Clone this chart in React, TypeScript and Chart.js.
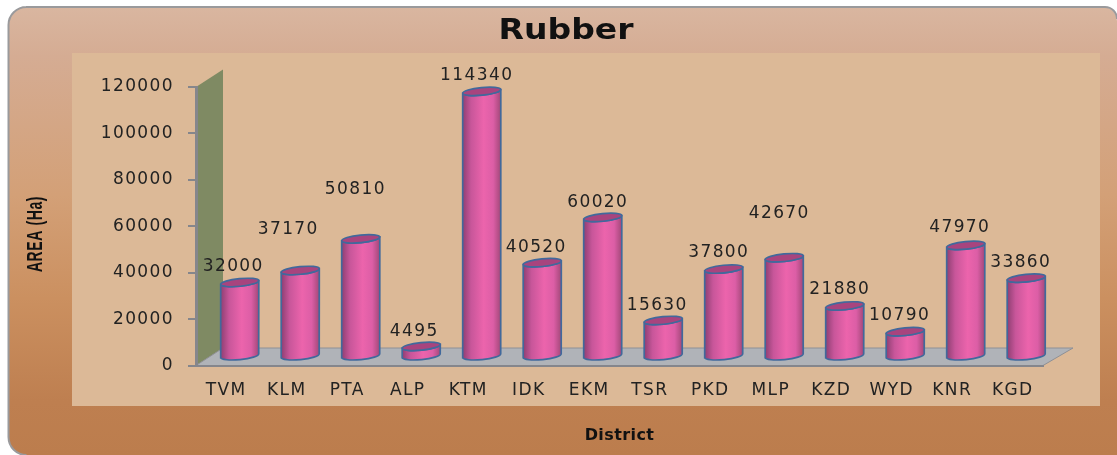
import React, { useEffect, useRef } from "react";
import { Chart, registerables } from "chart.js";

Chart.register(...registerables);

const districts = ["TVM", "KLM", "PTA", "ALP", "KTM", "IDK", "EKM", "TSR", "PKD", "MLP", "KZD", "WYD", "KNR", "KGD"];
const areaHa = [32000, 37170, 50810, 4495, 114340, 40520, 60020, 15630, 37800, 42670, 21880, 10790, 47970, 33860];
// Hand nudges of the value labels relative to each cylinder's top centre, as placed in the source chart.
const labelNudgeX = [-6.5, -12, -5.4, -7, -5, -6, -5, -6, -5, -5, -5, -5.6, -6, -5.5];
const labelNudgeY = [-15.5, -41, -49, -15, -16, -15, -15, -14.5, -16, -44, -16, -16, -18, -16];

const chartTitle = "Rubber";
const xTitle = "District";
const yTitle = "AREA (Ha)";

const DEPTH_X = 27;
const DEPTH_Y = 17.5;
const SPACING = "1.4px";

function setSpacing(ctx: any, v: string) {
  ctx.letterSpacing = v;
}

function label(ctx: any, text: string, x: number, y: number, font: string, spacing: string, rot = 0, sx = 1, sy = 1) {
  ctx.save();
  setSpacing(ctx, spacing);
  ctx.translate(x, y);
  ctx.rotate(rot);
  ctx.scale(sx, sy);
  ctx.font = font;
  ctx.fillStyle = "#111111";
  ctx.textAlign = "center";
  ctx.textBaseline = "middle";
  ctx.fillText(text, 0, 0);
  ctx.restore();
}

const scenePlugin = {
  id: "scene",
  beforeUpdate(chart: any) {
    setSpacing(chart.ctx, SPACING);
  },
  beforeDraw(chart: any) {
    const { ctx, chartArea: a, width, height } = chart;
    ctx.save();
    ctx.fillStyle = "#ffffff";
    ctx.fillRect(0, 0, width, height);
    const g = ctx.createLinearGradient(0, 7, 0, height);
    g.addColorStop(0, "#D9B6A0");
    g.addColorStop(0.11, "#D5AC93");
    g.addColorStop(0.42, "#D3A077");
    g.addColorStop(0.65, "#CB9060");
    g.addColorStop(0.88, "#BE7F50");
    g.addColorStop(1, "#BC7D4D");
    ctx.beginPath();
    ctx.moveTo(width, 16);
    ctx.arcTo(width, 7, width - 16, 7, 14);
    ctx.lineTo(26, 7);
    ctx.arcTo(8.5, 7, 8.5, 25, 18);
    ctx.lineTo(8.5, height - 18);
    ctx.arcTo(8.5, height, 26, height, 18);
    ctx.lineTo(width, height);
    ctx.closePath();
    ctx.fillStyle = g;
    ctx.fill();

    ctx.beginPath();
    ctx.moveTo(width, 14);
    ctx.arcTo(width, 7, width - 14, 7, 12);
    ctx.lineTo(26, 7);
    ctx.arcTo(8.5, 7, 8.5, 25, 18);
    ctx.lineTo(8.5, height - 18);
    ctx.arcTo(8.5, height, 26, height, 18);
    ctx.strokeStyle = "#9A9A9C";
    ctx.lineWidth = 2;
    ctx.stroke();

    ctx.fillStyle = "#DCB997";
    ctx.fillRect(72, 53, 1028, 353);

    ctx.beginPath();
    ctx.moveTo(a.left, a.bottom);
    ctx.lineTo(a.left, a.top);
    ctx.lineTo(a.left + DEPTH_X, a.top - DEPTH_Y);
    ctx.lineTo(a.left + DEPTH_X, a.bottom - DEPTH_Y);
    ctx.closePath();
    ctx.fillStyle = "#7F8A63";
    ctx.fill();

    ctx.beginPath();
    ctx.moveTo(a.left, a.bottom);
    ctx.lineTo(a.left + DEPTH_X, a.bottom - DEPTH_Y);
    ctx.lineTo(a.right + DEPTH_X + 3, a.bottom - DEPTH_Y);
    ctx.lineTo(a.right, a.bottom);
    ctx.closePath();
    ctx.fillStyle = "#B0B3B8";
    ctx.fill();
    ctx.strokeStyle = "#8E9096";
    ctx.lineWidth = 1;
    ctx.stroke();
    ctx.restore();
  },
  afterDatasetsDraw(chart: any) {
    const { ctx } = chart;
    const meta = chart.getDatasetMeta(0);
    const tilt = -0.1;
    ctx.save();
    meta.data.forEach((bar: any, i: number) => {
      const cx = bar.x + DEPTH_X / 2;
      const top = bar.y - DEPTH_Y / 2;
      const base = bar.base - DEPTH_Y / 2;
      const rx = bar.width / 2;
      const ry = 3.8;
      const dy = Math.sin(tilt) * rx;
      const grad = ctx.createLinearGradient(cx - rx, 0, cx + rx, 0);
      grad.addColorStop(0, "#8E3F72");
      grad.addColorStop(0.22, "#C8569A");
      grad.addColorStop(0.55, "#EC64AC");
      grad.addColorStop(0.8, "#DC5EA6");
      grad.addColorStop(1, "#A24878");
      ctx.beginPath();
      ctx.moveTo(cx - rx, top - dy);
      ctx.lineTo(cx - rx, base - dy);
      ctx.ellipse(cx, base, rx, ry, tilt, Math.PI, 0, true);
      ctx.lineTo(cx + rx, top + dy);
      ctx.ellipse(cx, top, rx, ry, tilt, 0, Math.PI, false);
      ctx.closePath();
      ctx.fillStyle = grad;
      ctx.fill();
      ctx.strokeStyle = "#41699C";
      ctx.lineWidth = 1.7;
      ctx.stroke();
      ctx.beginPath();
      ctx.ellipse(cx, top, rx, ry, tilt, 0, Math.PI * 2);
      ctx.fillStyle = "#A8447E";
      ctx.fill();
      ctx.stroke();

      ctx.fillStyle = "#222222";
      ctx.font = "17px 'DejaVu Sans'";
      ctx.textAlign = "center";
      ctx.textBaseline = "middle";
      ctx.fillText(String(areaHa[i]), cx + labelNudgeX[i], top + labelNudgeY[i]);
    });
    ctx.restore();
  },
  afterDraw(chart: any) {
    const { ctx } = chart;
    label(ctx, chartTitle, 566, 31.5, "bold 29px 'DejaVu Sans'", "0px", 0, 1.14, 1);
    label(ctx, xTitle, 619.5, 436, "bold 16px 'DejaVu Sans'", "0.4px");
    label(ctx, yTitle, 36, 234, "bold 14px 'Liberation Sans'", "0.6px", -Math.PI / 2, 1, 1.55);
  },
};

export default function App() {
  const ref = useRef<HTMLCanvasElement>(null);
  useEffect(() => {
    const chart = new Chart(ref.current as HTMLCanvasElement, {
      type: "bar",
      data: {
        labels: districts,
        datasets: [
          {
            label: yTitle,
            data: areaHa,
            backgroundColor: "transparent",
            borderWidth: 0,
            barPercentage: 0.63,
            categoryPercentage: 1,
          },
        ],
      },
      plugins: [scenePlugin],
      options: {
        responsive: false,
        animation: false,
        layout: { padding: { left: 0, right: 74, top: 87, bottom: 0 } },
        plugins: {
          legend: { display: false },
          tooltip: { enabled: false },
        },
        scales: {
          x: {
            afterFit: (s: any) => {
              s.height = 89.5;
            },
            grid: { display: false, drawTicks: false },
            border: { display: true, color: "#85868C", width: 2 },
            ticks: {
              color: "#222222",
              font: { family: "'DejaVu Sans'", size: 17 },
              padding: 15,
              autoSkip: false,
              maxRotation: 0,
            },
          },
          y: {
            min: 0,
            max: 120000,
            afterFit: (s: any) => {
              s.width = 196;
            },
            grid: { drawOnChartArea: false, drawTicks: true, tickLength: 8, color: "#85868C", lineWidth: 2 },
            border: { display: true, color: "#85868C", width: 3 },
            ticks: {
              stepSize: 20000,
              color: "#222222",
              font: { family: "'DejaVu Sans'", size: 17 },
              padding: 14,
              callback: (v: any) => String(v),
            },
          },
        },
      },
    } as any);
    return () => chart.destroy();
  }, []);
  return (
    <canvas
      ref={ref}
      width={1117}
      height={455}
      style={{ position: "absolute", left: 0, top: 0, display: "block" }}
    />
  );
}
